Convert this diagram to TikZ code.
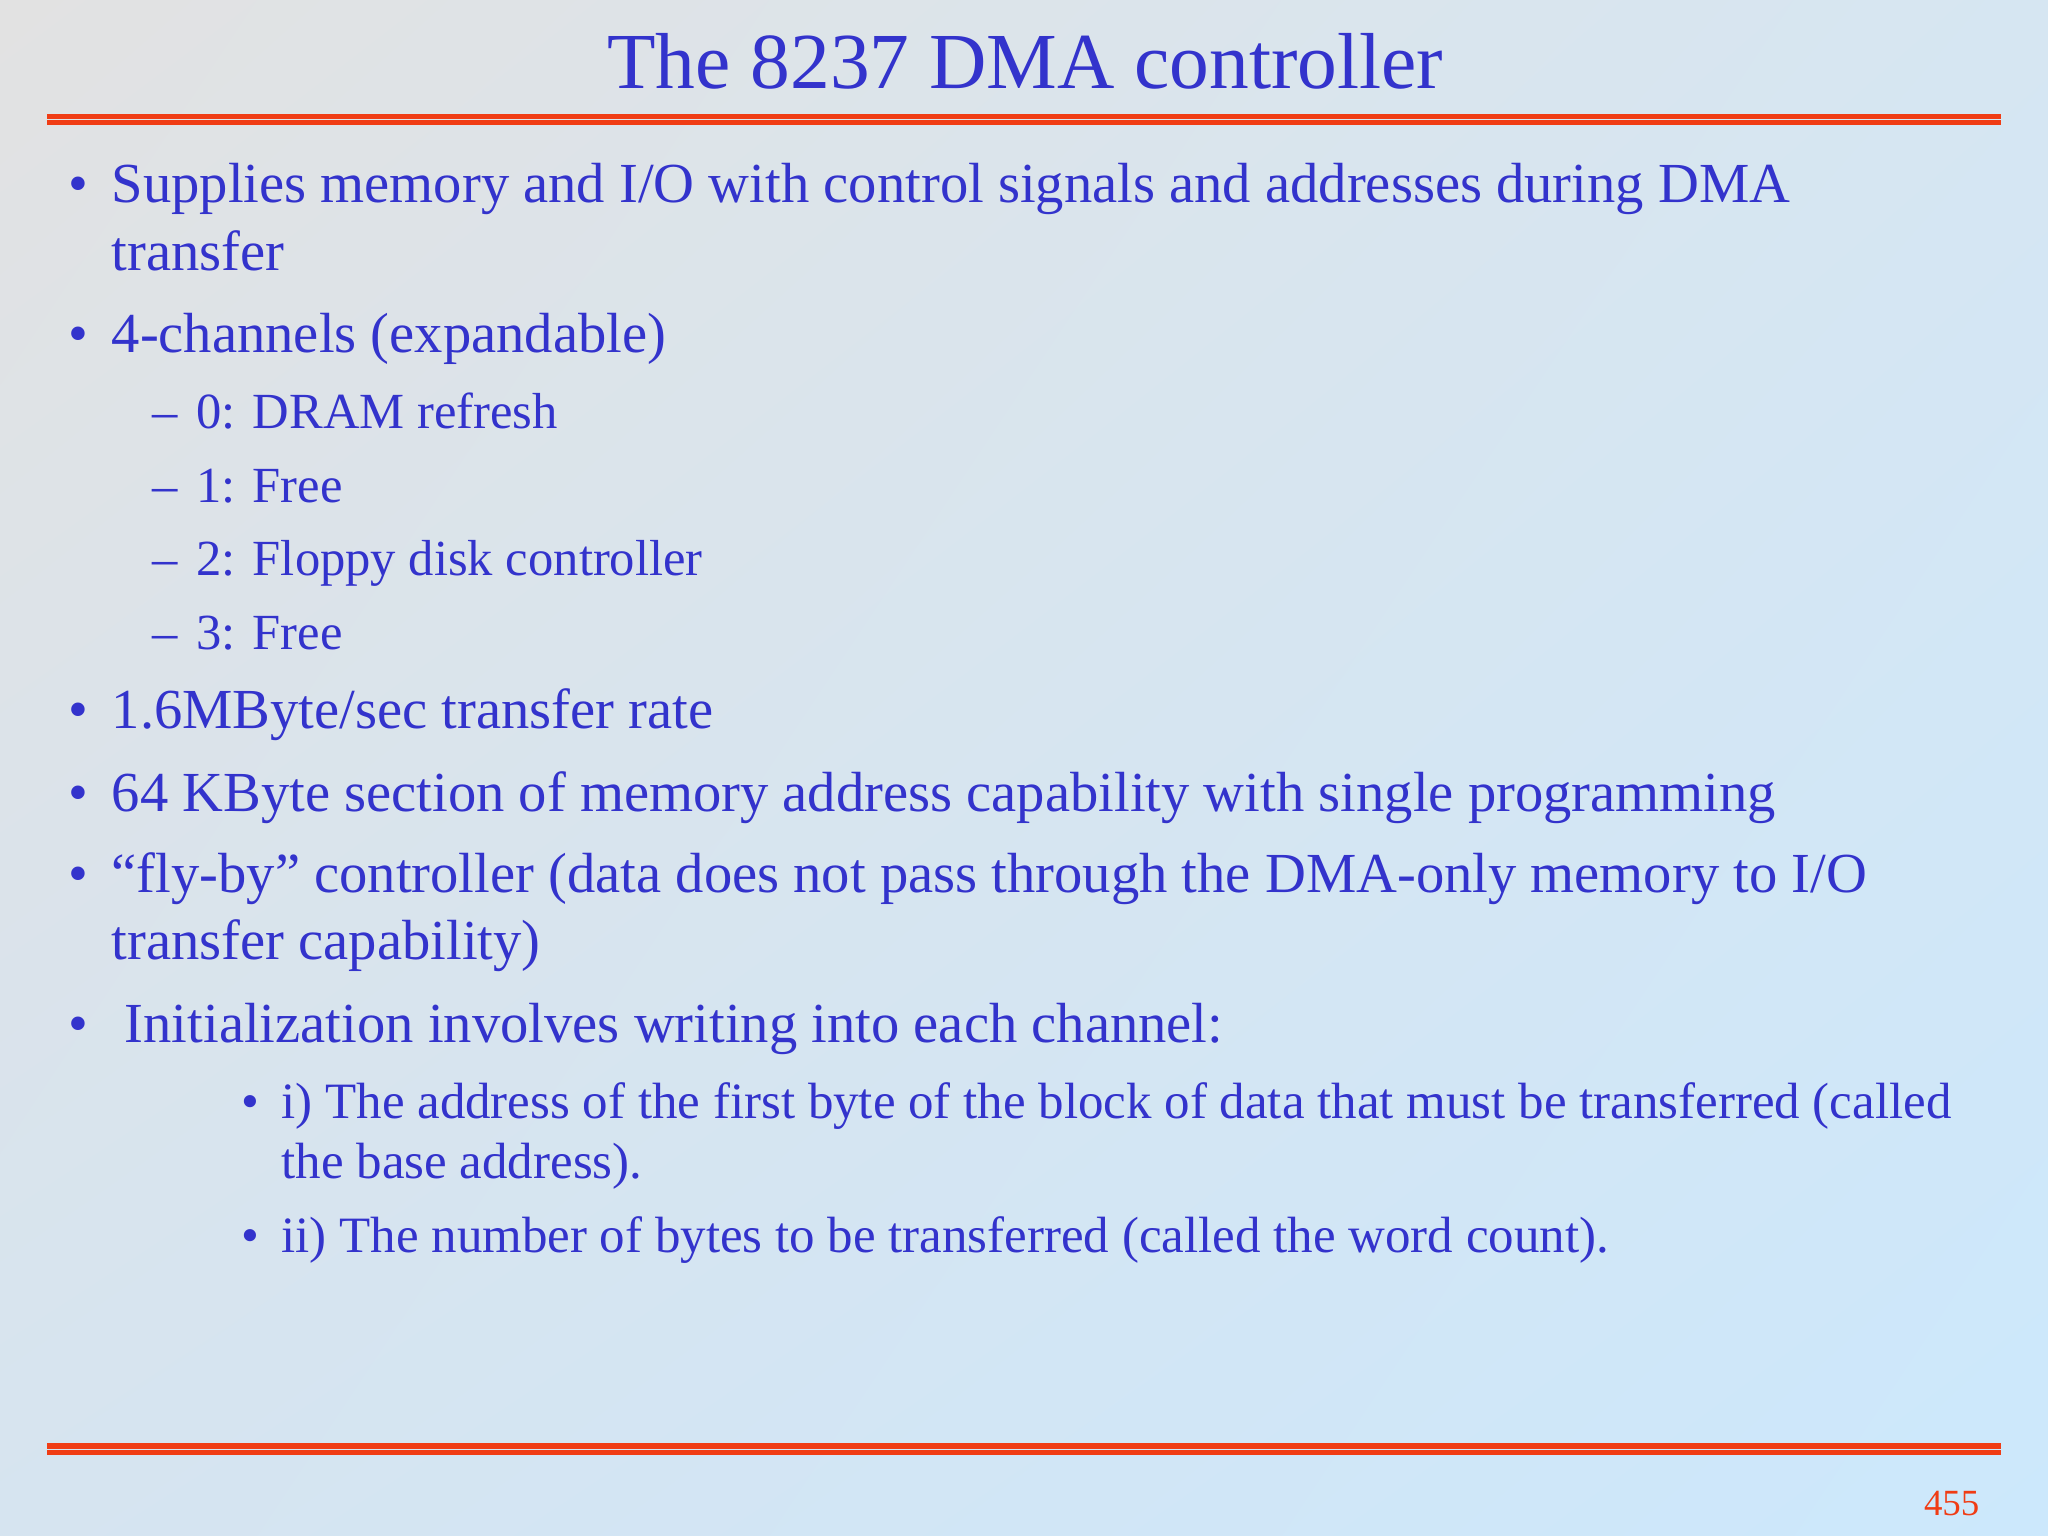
\documentclass[tikz,border=0pt]{standalone}
\usepackage{fontspec}
\setmainfont{Liberation Serif}
\usetikzlibrary{positioning,shadings}
\definecolor{slideblue}{RGB}{51,51,204}
\definecolor{rulered}{RGB}{240,60,20}
\definecolor{bgul}{RGB}{226,226,226}
\definecolor{bgur}{RGB}{214,230,242}
\definecolor{bgll}{RGB}{214,228,240}
\definecolor{bglr}{RGB}{204,232,252}
\begin{document}
\begin{tikzpicture}[
    x=0.013061cm, y=-0.013061cm,
    txt/.style={anchor=base west, inner sep=0pt, text=slideblue, font=\fontsize{16.1}{19}\selectfont},
    subtxt/.style={txt, font=\fontsize{14.4}{17}\selectfont},
    smalltxt/.style={txt, font=\fontsize{14.5}{17}\selectfont},
    redrule/.style={rulered, line width=1.5pt}
]

% Background
\shade[upper left=bgul, upper right=bgur, lower left=bgll, lower right=bglr]
    (0,0) rectangle (1568,1176);
\useasboundingbox (0,0) rectangle (1568,1176);

% Title and rules
\node[anchor=base, inner sep=0pt, text=slideblue, font=\fontsize{22.6}{26}\selectfont] (title) at (785,68) {The 8237 DMA controller};
\draw[redrule] (36,89) -- (1532,89);
\draw[redrule] (36,94) -- (1532,94);
\draw[redrule] (36,1107) -- (1532,1107);
\draw[redrule] (36,1112) -- (1532,1112);
\node[anchor=base east, inner sep=0pt, text=rulered, font=\fontsize{10.5}{12}\selectfont] (page) at (1516,1160) {455};

% Main bullets
\foreach \y/\t [count=\i] in {155/{Supplies memory and I/O with control signals and addresses during DMA},
    270/{4-channels (expandable)}, 558/{1.6MByte/sec transfer rate},
    621/{64 KByte section of memory address capability with single programming},
    683/{“fly-by” controller (data does not pass through the DMA-only memory to I/O}} {
  \node[txt] (dot\i) at (52,\y) {•};
  \node[txt] (item\i) at (85,\y) {\t};
}
\node[txt] (item1b) at (85,207) {transfer};
\node[txt] (item5b) at (85,735) {transfer capability)};
\node[txt] (dot6) at (52,798) {•};
\node[txt] (item6) at (95,798) {Initialization involves writing into each channel:};

% Channels
\foreach \y/\t [count=\i] in {328/{0: DRAM refresh}, 385/{1: Free}, 441/{2: Floppy disk controller}, 497/{3: Free}} {
  \node[subtxt] (dash\i) at (116,\y) {–};
  \node[subtxt] (chan\i) at (150,\y) {\t};
}

% Initialization items
\node[smalltxt] (sdot1) at (184,856) {•};
\node[smalltxt] (init1) at (215,856) {i) The address of the first byte of the block of data that must be transferred (called};
\node[smalltxt] (init1b) at (215,902) {the base address).};
\node[smalltxt] (sdot2) at (184,959) {•};
\node[smalltxt] (init2) at (215,959) {ii) The number of bytes to be transferred (called the word count).};

\end{tikzpicture}
\end{document}
